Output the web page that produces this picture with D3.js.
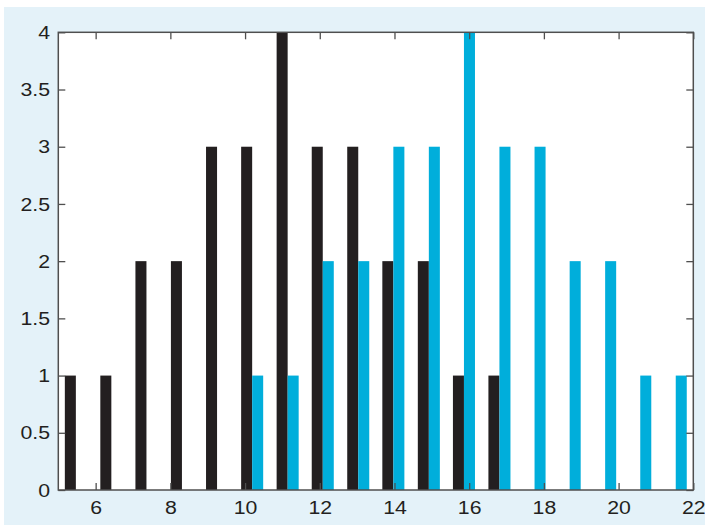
<!DOCTYPE html>
<html>
<head>
<meta charset="utf-8">
<script src="https://cdn.jsdelivr.net/npm/d3@7"></script>
<style>
  html, body { margin: 0; padding: 0; background: #ffffff; }
  svg { display: block; }
</style>
</head>
<body>
<svg id="chart" width="705" height="525"></svg>
<script>
// ---- data ----
const binCenters = [5.47, 6.42, 7.36, 8.31, 9.25, 10.19, 11.14, 12.08, 13.03,
                    13.97, 14.92, 15.86, 16.81, 17.75, 18.69, 19.64, 20.58, 21.53];
const seriesBlack = [1, 1, 2, 2, 3, 3, 4, 3, 3, 2, 2, 1, 1, 0, 0, 0, 0, 0];
const seriesBlue  = [0, 0, 0, 0, 0, 1, 1, 2, 2, 3, 3, 4, 3, 3, 2, 2, 1, 1];
const xTicks = [6, 8, 10, 12, 14, 16, 18, 20, 22];
const yTicks = [0, 0.5, 1, 1.5, 2, 2.5, 3, 3.5, 4];
const xDomain = [5, 22];
const yDomain = [0, 4];
const barWidthData = 0.295;

const colors = { black: "#231f20", blue: "#00aedb", axis: "#4f4f4f", bg: "#e4f2f9" };

const svg = d3.select("#chart");
const W = 705, H = 525;
const plot = { left: 58.3, right: 693.3, top: 32.3, bottom: 490 };

// background panel
svg.append("rect").attr("x", 4).attr("y", 7).attr("width", W - 4).attr("height", H - 7)
  .attr("fill", colors.bg);
svg.append("rect").attr("x", plot.left).attr("y", plot.top)
  .attr("width", plot.right - plot.left).attr("height", plot.bottom - plot.top)
  .attr("fill", "#ffffff");

const x = d3.scaleLinear().domain(xDomain).range([plot.left, plot.right]);
const y = d3.scaleLinear().domain(yDomain).range([plot.bottom, plot.top]);

const bw = x(xDomain[0] + barWidthData) - x(xDomain[0]);

const rows = binCenters.map((c, i) => ({ c, a: seriesBlack[i], b: seriesBlue[i] }));

svg.append("g").selectAll("rect").data(rows.filter(d => d.a > 0)).join("rect")
  .attr("x", d => x(d.c) - bw)
  .attr("y", d => y(d.a))
  .attr("width", bw)
  .attr("height", d => y(0) - y(d.a))
  .attr("fill", colors.black);

svg.append("g").selectAll("rect").data(rows.filter(d => d.b > 0)).join("rect")
  .attr("x", d => x(d.c))
  .attr("y", d => y(d.b))
  .attr("width", bw)
  .attr("height", d => y(0) - y(d.b))
  .attr("fill", colors.blue);

const fontFam = "'Liberation Sans', Arial, Helvetica, sans-serif";
const tickLen = 7;
const sx = 1.12;
const fs = 19;

function styleAxis(g) {
  g.select(".domain").remove();
  g.selectAll(".tick line").attr("stroke", colors.axis).attr("stroke-width", 1.3);
  g.selectAll(".tick text").attr("fill", colors.black)
    .attr("font-family", fontFam).attr("font-size", fs);
}

// bottom axis (ticks inward)
svg.append("g").attr("transform", `translate(0,${plot.bottom})`)
  .call(d3.axisBottom(x).tickValues(xTicks).tickFormat(d3.format("d"))
        .tickSizeInner(-tickLen).tickSizeOuter(0).tickPadding(15))
  .call(styleAxis)
  .call(g => g.selectAll(".tick text").attr("dy", "0.71em").attr("y", 11)
                .attr("transform", `scale(${sx},1)`));

// top axis (ticks only)
svg.append("g").attr("transform", `translate(0,${plot.top})`)
  .call(d3.axisTop(x).tickValues(xTicks).tickFormat("")
        .tickSizeInner(-tickLen).tickSizeOuter(0))
  .call(styleAxis);

// left axis
svg.append("g").attr("transform", `translate(${plot.left},0)`)
  .call(d3.axisLeft(y).tickValues(yTicks).tickFormat(d3.format("~g"))
        .tickSizeInner(-tickLen).tickSizeOuter(0).tickPadding(15))
  .call(styleAxis)
  .call(g => g.selectAll(".tick text").attr("x", -8.3 / sx)
                .attr("transform", `scale(${sx},1)`));

// right axis (ticks only)
svg.append("g").attr("transform", `translate(${plot.right},0)`)
  .call(d3.axisRight(y).tickValues(yTicks).tickFormat("")
        .tickSizeInner(-tickLen).tickSizeOuter(0))
  .call(styleAxis);

// box
svg.append("rect").attr("x", plot.left).attr("y", plot.top)
  .attr("width", plot.right - plot.left).attr("height", plot.bottom - plot.top)
  .attr("fill", "none").attr("stroke", colors.axis).attr("stroke-width", 1.5);
</script>
</body>
</html>
